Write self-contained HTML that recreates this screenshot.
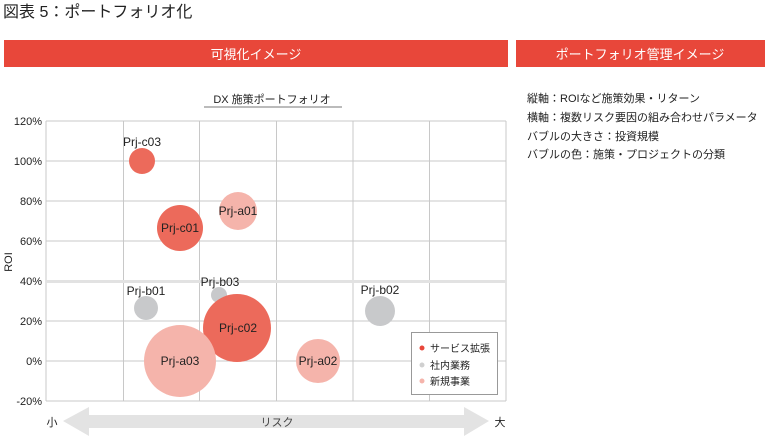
<!DOCTYPE html>
<html><head><meta charset="utf-8"><style>
body{margin:0;width:769px;height:442px;background:#fff;overflow:hidden;font-family:"Liberation Sans","Noto Sans CJK JP",sans-serif;}
</style></head><body>
<svg width="769" height="442" xmlns="http://www.w3.org/2000/svg" style="font-family:'Liberation Sans','Noto Sans CJK JP',sans-serif">
<text x="3" y="17" font-size="16" fill="#222">図表 5：ポートフォリオ化</text>
<rect x="4" y="40" width="504" height="27" fill="#e8473a"/>
<text x="256" y="59" font-size="13" fill="#fff" text-anchor="middle">可視化イメージ</text>
<rect x="516" y="40" width="249" height="27" fill="#e8473a"/>
<text x="640" y="59" font-size="13" fill="#fff" text-anchor="middle">ポートフォリオ管理イメージ</text>
<g font-size="11" fill="#222">
<text x="527" y="102">縦軸：ROIなど施策効果・リターン</text>
<text x="527" y="121">横軸：複数リスク要因の組み合わせパラメータ</text>
<text x="527" y="140">バブルの大きさ：投資規模</text>
<text x="527" y="158">バブルの色：施策・プロジェクトの分類</text>
</g>
<text x="272" y="103" font-size="11" fill="#222" text-anchor="middle">DX 施策ポートフォリオ</text>
<line x1="204" y1="107" x2="342" y2="107" stroke="#777" stroke-width="1"/>
<g stroke="#c8c8c8" stroke-width="1">
<line x1="46" y1="121" x2="506" y2="121"/><line x1="46" y1="161" x2="506" y2="161"/>
<line x1="46" y1="201" x2="506" y2="201"/><line x1="46" y1="241" x2="506" y2="241"/>
<line x1="46" y1="321" x2="506" y2="321"/><line x1="46" y1="361" x2="506" y2="361"/>
<line x1="46" y1="401" x2="506" y2="401"/>
<line x1="46" y1="121" x2="46" y2="401"/><line x1="123.5" y1="121" x2="123.5" y2="401"/>
<line x1="199.5" y1="121" x2="199.5" y2="401"/><line x1="276.5" y1="121" x2="276.5" y2="401"/>
<line x1="353" y1="121" x2="353" y2="401"/><line x1="429.5" y1="121" x2="429.5" y2="401"/>
<line x1="506" y1="121" x2="506" y2="401"/>
</g>
<line x1="46" y1="281.5" x2="506" y2="281.5" stroke="#e2e2e2" stroke-width="3"/>
<g font-size="11" fill="#222" text-anchor="end">
<text x="42" y="125">120%</text><text x="42" y="165">100%</text><text x="42" y="205">80%</text>
<text x="42" y="245">60%</text><text x="42" y="285">40%</text><text x="42" y="325">20%</text>
<text x="42" y="365">0%</text><text x="42" y="405">-20%</text>
</g>
<text transform="translate(12,262) rotate(-90)" font-size="11" fill="#222" text-anchor="middle">ROI</text>
<circle cx="142" cy="161" r="13" fill="#ec6a5b"/>
<circle cx="180" cy="228" r="23" fill="#ec6a5b"/>
<circle cx="238" cy="211" r="19" fill="#f5b4ab"/>
<circle cx="146" cy="308" r="12" fill="#c8c9cb"/>
<circle cx="219" cy="295" r="8" fill="#c8c9cb"/>
<circle cx="380" cy="311" r="15" fill="#c8c9cb"/>
<circle cx="237" cy="328" r="34" fill="#ec6a5b"/>
<circle cx="180" cy="361" r="36" fill="#f5b4ab"/>
<circle cx="318" cy="361" r="22" fill="#f5b4ab"/>
<g font-size="12" fill="#222" text-anchor="middle">
<text x="142" y="146">Prj-c03</text>
<text x="180" y="232">Prj-c01</text>
<text x="238" y="215">Prj-a01</text>
<text x="146" y="295">Prj-b01</text>
<text x="220" y="286">Prj-b03</text>
<text x="380" y="294">Prj-b02</text>
<text x="238" y="332">Prj-c02</text>
<text x="180" y="365">Prj-a03</text>
<text x="318" y="365">Prj-a02</text>
</g>
<rect x="411.5" y="332.5" width="86" height="62" fill="#fff" stroke="#999"/>
<circle cx="422" cy="348" r="2.5" fill="#e8473a"/>
<circle cx="422" cy="365" r="2.5" fill="#d0d0d0"/>
<circle cx="422" cy="381" r="2.5" fill="#f5b4ab"/>
<g font-size="10" fill="#222">
<text x="430" y="352">サービス拡張</text><text x="430" y="369">社内業務</text><text x="430" y="385">新規事業</text>
</g>
<polygon points="63,421 89,407 89,415 464,415 464,407 489,421 464,436 464,428 89,428 89,436" fill="#e3e3e3"/>
<text x="277" y="426" font-size="11" fill="#444" text-anchor="middle">リスク</text>
<text x="52" y="426" font-size="11" fill="#222" text-anchor="middle">小</text>
<text x="500" y="426" font-size="11" fill="#222" text-anchor="middle">大</text>
</svg>
</body></html>
